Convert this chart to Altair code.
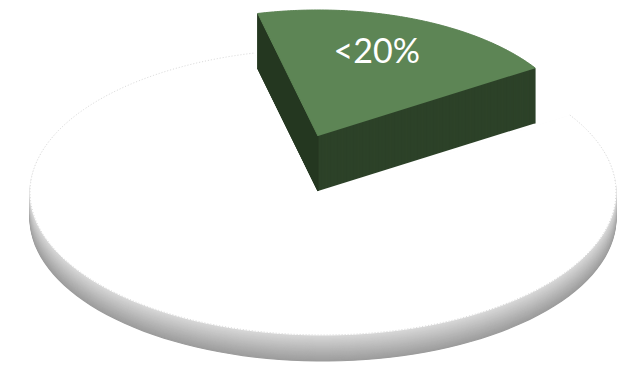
import altair as alt
import pandas as pd

# ---- data ----
labels = ["<20%", "Other"]
shares = [19.7, 80.3]
label_text = ["<20%", ""]

# ---- style constants (geometry of the 3-D look) ----
START_DEG = -13.5          # first slice starts slightly left of 12 o'clock
N = 120                    # points along each arc
BASE = dict(cx=323, cy=189, rx=293, ry=143, depth=26)      # white slice
EXPL = dict(cx=318, cy=133, rx=258, ry=126, depth=55)      # exploded green slice
GREEN_TOP = "#5d8555"
GREEN_SIDE = "#2d4229"
GREEN_LEFT = "#243720"

df = pd.DataFrame({"label": labels, "share": shares, "txt": label_text,
                   "ord": list(range(len(labels)))})

W, H = 613, 353
xs = alt.Scale(domain=[8, 8 + W], nice=False, zero=False)
ys = alt.Scale(domain=[8, 8 + H], nice=False, zero=False, reverse=True)

pre = (
    alt.Chart(df)
    .transform_joinaggregate(total="sum(share)")
    .transform_window(cum="sum(share)", sort=[alt.SortField("ord")], frame=[None, 0])
    .transform_calculate(
        a0=f"{START_DEG}*PI/180 + 2*PI*(datum.cum - datum.share)/datum.total",
        a1=f"{START_DEG}*PI/180 + 2*PI*datum.cum/datum.total",
    )
)


def poly(label, g, depths):
    return (
        pre.transform_filter(alt.datum.label == label)
        .transform_calculate(ks=f"sequence(0, {N + 1})", ds=depths)
        .transform_flatten(["ks"])
        .transform_flatten(["ds"])
        .transform_calculate(
            ang=f"datum.a0 + (datum.a1 - datum.a0) * (datum.ks - 1) / {N - 1}"
        )
        .transform_calculate(
            x=f"{g['cx']} + (datum.ks == 0 ? 0 : {g['rx']} * sin(datum.ang))",
            y=f"{g['cy']} + datum.ds - (datum.ks == 0 ? 0 : {g['ry']} * cos(datum.ang))",
        )
    )


enc = dict(
    x=alt.X("x:Q", scale=xs, axis=None),
    y=alt.Y("y:Q", scale=ys, axis=None),
    order=alt.Order("ks:Q"),
    detail="ds:N",
)

# rim of the white slice: stacked copies, darker with depth
rim_scale = alt.Scale(domain=[1, BASE["depth"]], range=["#d6d6d6", "#9c9c9c"])
rim = poly("Other", BASE, f"sequence({BASE['depth']}, 0, -1)").mark_line(strokeWidth=1.2).encode(
    fill=alt.Fill("ds:Q", scale=rim_scale, legend=None),
    stroke=alt.Stroke("ds:Q", scale=rim_scale, legend=None),
    **enc,
)

top_ch = poly("Other", BASE, "[0]")
white_top = top_ch.mark_line(fill="#ffffff", stroke="#ffffff", strokeWidth=1).encode(**enc)

outline = top_ch.transform_filter(alt.datum.ks >= 1).mark_line(
    stroke="#d9d9d9", strokeWidth=1, strokeDash=[1, 2]
).encode(**enc)

green_side = poly("<20%", EXPL, f"sequence({EXPL['depth']}, 0, -1)").mark_line(
    fill=GREEN_SIDE, stroke=GREEN_SIDE, strokeWidth=1.2).encode(**enc)

# left radial face of the exploded slice (slightly darker)
left_face = (
    pre.transform_filter(alt.datum.label == "<20%")
    .transform_calculate(ks="sequence(0, 4)")
    .transform_flatten(["ks"])
    .transform_calculate(
        r="(datum.ks == 0 || datum.ks == 3) ? 1 : 0",
        dd=f"(datum.ks >= 2) ? {EXPL['depth']} : 0",
        ds="0",
    )
    .transform_calculate(
        x=f"{EXPL['cx']} + datum.r * {EXPL['rx']} * sin(datum.a0)",
        y=f"{EXPL['cy']} + datum.dd - datum.r * {EXPL['ry']} * cos(datum.a0)",
    )
    .mark_line(fill=GREEN_LEFT, stroke=GREEN_LEFT, strokeWidth=1)
    .encode(**enc)
)

green_top = poly("<20%", EXPL, "[0]").mark_line(
    fill=GREEN_TOP, stroke=GREEN_TOP, strokeWidth=1).encode(**enc)

label = (
    pre.transform_filter(alt.datum.label == "<20%")
    .transform_calculate(mid="(datum.a0 + datum.a1) / 2")
    .transform_calculate(
        x=f"{EXPL['cx']} + 0.66 * {EXPL['rx']} * sin(datum.mid) - 5",
        y=f"{EXPL['cy']} - 0.66 * {EXPL['ry']} * cos(datum.mid) - 6",
    )
    .mark_text(font="Lato", fontSize=34, color="#ffffff", align="center", baseline="middle")
    .encode(x=alt.X("x:Q", scale=xs, axis=None), y=alt.Y("y:Q", scale=ys, axis=None),
            text="txt:N")
)

chart = (
    alt.layer(rim, white_top, outline, green_side, left_face, green_top, label)
    .properties(width=W, height=H, padding=0)
    .configure_view(strokeWidth=0)
)

chart.save("out.html", embed_options={"renderer": "svg", "actions": False})
